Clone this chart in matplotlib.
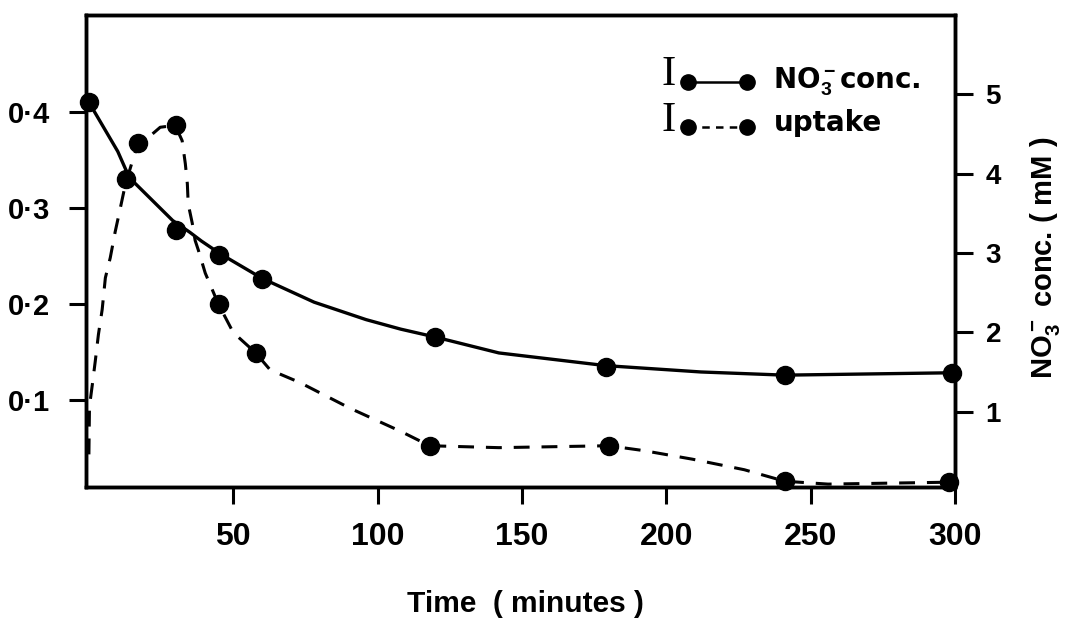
import numpy as np
import matplotlib
matplotlib.use("Agg")
import matplotlib.pyplot as plt

plt.rcParams['font.family'] = ['Liberation Sans', 'DejaVu Sans']
plt.rcParams['font.weight'] = 'bold'
plt.rcParams['mathtext.fontset'] = 'custom'
plt.rcParams['mathtext.rm'] = 'Liberation Sans:bold'
plt.rcParams['mathtext.it'] = 'Liberation Sans:bold'
plt.rcParams['mathtext.bf'] = 'Liberation Sans:bold'

# measured points (markers)
no3_t = [0, 13, 30, 45, 60, 120, 179, 241, 299]
no3_conc = [4.90, 3.93, 3.29, 2.97, 2.67, 1.94, 1.56, 1.46, 1.49]
upt_t = [17, 30, 45, 58, 118, 180, 241, 298]
upt_val = [0.368, 0.386, 0.200, 0.149, 0.052, 0.052, 0.015, 0.014]

# hand drawn curves
no3_curve_t = [0, 10, 14, 29, 35, 39, 45.5, 60, 78, 96, 108, 120, 142, 179, 212, 241, 299]
no3_curve = [4.90, 4.28, 3.95, 3.41, 3.26, 3.15, 2.99, 2.68, 2.38, 2.16, 2.04, 1.94,
             1.74, 1.58, 1.50, 1.46, 1.49]
upt_curve_t = [0, 0.2, 1.2, 2.2, 3.3, 4.6, 5.7, 7.4, 9.1, 10.9, 12.6, 15, 17.1, 22, 24.7,
               29.9, 32.3, 33.4, 34.1, 34.4, 35.8, 36.8, 37.9, 40.3, 44.8, 50, 57.7, 62.8,
               73, 90.5, 108, 118, 142, 180, 192, 209, 227, 241, 256, 298]
upt_curve = [0.043, 0.093, 0.116, 0.140, 0.168, 0.194, 0.227, 0.248, 0.275, 0.300, 0.324,
             0.348, 0.368, 0.377, 0.384, 0.386, 0.370, 0.346, 0.325, 0.304, 0.284, 0.266,
             0.256, 0.232, 0.200, 0.170, 0.149, 0.131, 0.118, 0.091, 0.067, 0.052, 0.050,
             0.052, 0.047, 0.038, 0.027, 0.015, 0.012, 0.014]

x_ticks = [50, 100, 150, 200, 250, 300]
left_ticks = [0.1, 0.2, 0.3, 0.4]
left_labels = ['0·1', '0·2', '0·3', '0·4']
right_ticks = [1, 2, 3, 4, 5]

dash = (0, (5.2, 3.9))

fig = plt.figure(figsize=(10.86, 6.21), dpi=100)
ax = fig.add_axes([0.0792, 0.2158, 0.8002, 0.760])
ax2 = ax.twinx()

# uptake on left axis
ax.plot(upt_curve_t, upt_curve, color='black', lw=2.2, linestyle=dash)
ax.plot(upt_t, upt_val, 'o', color='black', ms=13, clip_on=False, zorder=5)

# nitrate conc on right axis
ax2.plot(no3_curve_t, no3_curve, color='black', lw=2.4)
ax2.plot(no3_t, no3_conc, 'o', color='black', ms=13, clip_on=False, zorder=5)

ax.set_xlim(-1, 300)
ax.set_ylim(0.009, 0.501)
ax2.set_ylim(0.05, 6.0)

ax.set_xticks(x_ticks)
ax.set_xticklabels([str(v) for v in x_ticks], fontsize=23, fontweight='bold')
ax.set_yticks(left_ticks)
ax.set_yticklabels(left_labels, fontsize=21, fontweight='bold')
ax2.set_yticks(right_ticks)
ax2.set_yticklabels([str(v) for v in right_ticks], fontsize=20, fontweight='bold')

ax.tick_params(axis='x', direction='out', length=12, width=2.2, pad=13)
ax.tick_params(axis='y', direction='out', length=12, width=2.2, pad=14)
ax2.tick_params(axis='y', direction='out', length=13, width=2.2, pad=9)

for a in (ax, ax2):
    for s in a.spines.values():
        s.set_linewidth(2.5)

fig.text(0.4834, 0.0145, 'Time  ( minutes )', fontsize=21.5, fontweight='bold',
         ha='center', va='baseline')
fig.text(0.9622, 0.5845, r'NO$_3^-$ conc. ( mM )', fontsize=21, fontweight='bold',
         rotation=90, ha='center', va='center')

# legend drawn by hand
tr = ax.transAxes
for yb in (0.852, 0.754):
    ax.text(0.670, yb, 'I', transform=tr, fontsize=31, family='Liberation Serif',
            fontweight='normal', ha='center', va='baseline')
ax.plot([0.693, 0.761], [0.858, 0.858], transform=tr, color='black', lw=1.8,
        marker='o', ms=11, clip_on=False)
ax.plot([0.693, 0.761], [0.763, 0.763], transform=tr, color='black', lw=1.8,
        linestyle=(0, (3, 2.5)), marker='o', ms=11, clip_on=False)
ax.text(0.791, 0.845, r'NO$_3^-$conc.', transform=tr, fontsize=20,
        family='DejaVu Sans', fontweight='bold', va='baseline')
ax.text(0.791, 0.754, 'uptake', transform=tr, fontsize=20,
        family='DejaVu Sans', fontweight='bold', va='baseline')

fig.savefig('out.png', dpi=100)
